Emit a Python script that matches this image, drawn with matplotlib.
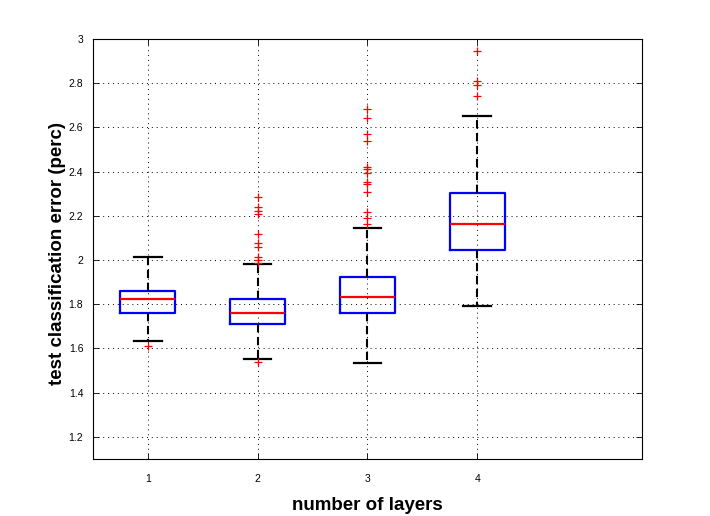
import numpy as np
import matplotlib
matplotlib.use("Agg")
matplotlib.rcParams.update({
    'font.family': 'sans-serif',
    'font.sans-serif': ['Liberation Sans', 'DejaVu Sans'],
})
import matplotlib.pyplot as plt

# ── Box statistics ───────────────────────────────────────────────────────────
layers  = [1, 2, 3, 4]
medians = [1.825, 1.762, 1.834, 2.164]
q1      = [1.762, 1.712, 1.762, 2.047]
q3      = [1.861, 1.824, 1.923, 2.303]
whislo  = [1.635, 1.553, 1.535, 1.793]
whishi  = [2.015, 1.983, 2.143, 2.652]
fliers  = [
    [1.611],
    [1.538, 1.988, 2.000, 2.015, 2.060, 2.076, 2.116, 2.207, 2.223, 2.241, 2.284],
    [2.162, 2.189, 2.216, 2.309, 2.343, 2.352, 2.392, 2.410, 2.422, 2.540, 2.569,
     2.641, 2.682],
    [2.742, 2.792, 2.811, 2.947],
]
yticks = [1.2, 1.4, 1.6, 1.8, 2.0, 2.2, 2.4, 2.6, 2.8, 3.0]

stats = [dict(med=m, q1=a, q3=b, whislo=lo, whishi=hi, fliers=f)
         for m, a, b, lo, hi, f in zip(medians, q1, q3, whislo, whishi, fliers)]

# ── Figure ────────────────────────────────────────────────────────────────────
fig = plt.figure(figsize=(7.1, 5.16), dpi=100)
fig.patch.set_facecolor("white")
ax = fig.add_axes([0.131, 0.1105, 0.773, 0.814])

ax.bxp(stats, positions=layers, widths=0.5, showcaps=True,
       boxprops=dict(color='#0000ff', lw=1.6),
       medianprops=dict(color='#ff0000', lw=1.6),
       whiskerprops=dict(color='black', lw=1.5, linestyle=(0, (4, 2.2))),
       capprops=dict(color='black', lw=1.6),
       flierprops=dict(marker='+', markeredgecolor='#ff0000', markersize=6,
                       markeredgewidth=0.9, linestyle='none'),
       capwidths=0.25)

ax.set_xlim(0.5, 5.5)
ax.set_ylim(1.1, 3.0)
ax.set_xticks(layers)
ax.set_xticklabels([str(v) for v in layers])
ax.set_yticks(yticks)
ax.set_yticklabels(["%g" % v for v in yticks])
ax.tick_params(direction='in', length=4, width=0.6, labelsize=7.5,
               top=True, right=True, pad=7)
ax.tick_params(axis='x', pad=11)
for s in ax.spines.values():
    s.set_linewidth(0.8)

ax.grid(True, color='black', lw=0.7, linestyle=(0, (1, 4)))
ax.set_axisbelow(True)

ax.set_xlabel("number of layers", fontsize=13.5, fontweight='bold', va='center')
ax.xaxis.set_label_coords(0.5, -0.11)
ax.set_ylabel("test classification error (perc)", fontsize=13.5,
              fontweight='bold', va='center')
ax.yaxis.set_label_coords(-0.064, 0.49)

plt.savefig("out.png", dpi=100, facecolor="white")
